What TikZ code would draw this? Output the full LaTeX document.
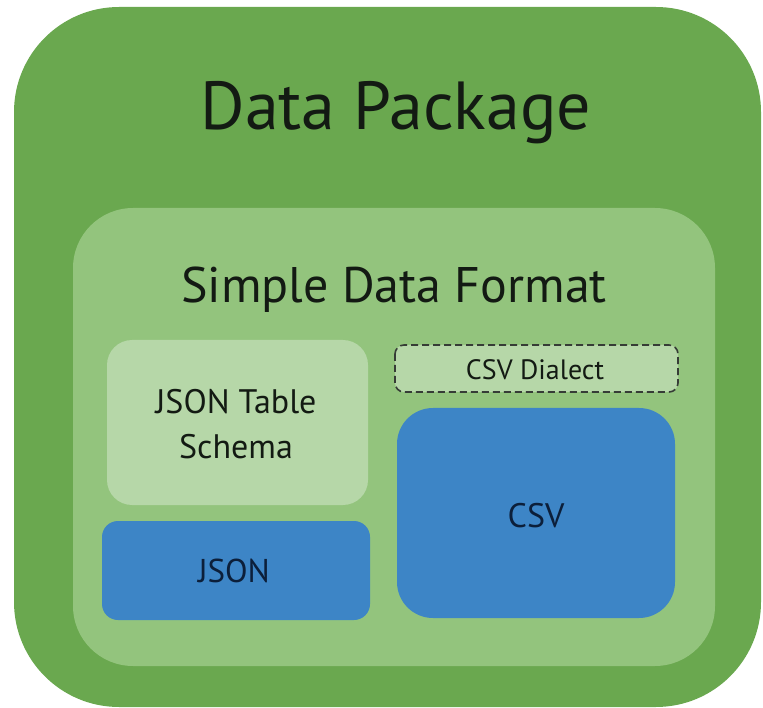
\documentclass[tikz,border=0pt]{standalone}
\usepackage{fontspec}
\setmainfont{PT Sans}
\definecolor{outergreen}{HTML}{6AA84F}
\definecolor{midgreen}{HTML}{93C47D}
\definecolor{lightgreen}{HTML}{B6D7A8}
\definecolor{boxblue}{HTML}{3D85C6}
\definecolor{txt}{HTML}{131A13}
\definecolor{bluetxt}{HTML}{0C1F3A}
\begin{document}
\begin{tikzpicture}[x=1pt,y=-1pt,
  lbl/.style={text=txt, inner sep=0pt, align=center, anchor=base},
  blbl/.style={lbl, text=bluetxt}]
\useasboundingbox (0,0) rectangle (763,708);
\fill[outergreen, rounded corners=105pt] (14,7) rectangle (761,707);
\fill[midgreen, rounded corners=60pt] (73,208) rectangle (715,666);
\fill[lightgreen, rounded corners=25pt] (107,340) rectangle (368,505);
\fill[boxblue, rounded corners=16pt] (102,521) rectangle (370,620);
\draw[line width=1.6pt, dash pattern=on 7pt off 4pt, fill=lightgreen, draw=txt!85, rounded corners=9pt] (395,345) rectangle (678,392);
\fill[boxblue, rounded corners=36pt] (397,408) rectangle (675,618);
\node[lbl, font=\fontsize{68}{72}\selectfont] (dp) at (396,130) {Data Package};
\node[lbl, font=\fontsize{50}{54}\selectfont] (sdf) at (394,303) {Simple Data Format};
\node[lbl, font=\fontsize{34}{45}\selectfont] (jts) at (236,458) {JSON Table\\Schema};
\node[lbl, font=\fontsize{28}{30}\selectfont] (dial) at (535,380) {CSV Dialect};
\node[blbl, font=\fontsize{34}{36}\selectfont] (csv) at (536,527) {CSV};
\node[blbl, font=\fontsize{33}{36}\selectfont] (json) at (234,582) {JSON};
\end{tikzpicture}
\end{document}
